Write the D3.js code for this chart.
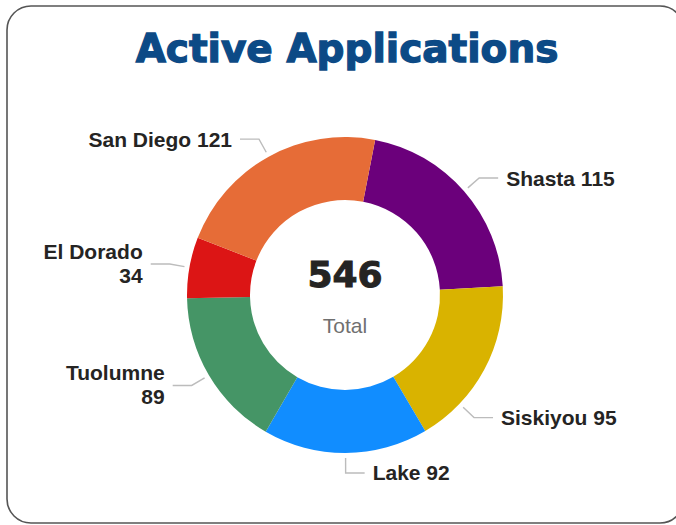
<!DOCTYPE html>
<html>
<head>
<meta charset="utf-8">
<script src="https://cdn.jsdelivr.net/npm/d3@7"></script>
<style>
  html, body { margin: 0; padding: 0; background: #fff; overflow: hidden; }
</style>
</head>
<body>
<div id="root"></div>
<script>
// Data.
const regions = ['Shasta', 'Siskiyou', 'Lake', 'Tuolumne', 'El Dorado', 'San Diego'];
const counts = [115, 95, 92, 89, 34, 121];
const colors = ['#6b007b', '#d9b300', '#118dff', '#459566', '#dc1515', '#e66c37'];
const title = 'Active Applications';
const totalLabel = 'Total';

let width = 676;
let height = 525;

let cx = 345;
let cy = 295;
let outerR = 158;
let innerR = 95;

let svg = d3.select('#root')
  .append('svg')
  .attr('width', width)
  .attr('height', height);

// Card frame.
svg.append('rect')
  .attr('x', 7)
  .attr('y', 6)
  .attr('width', 677)
  .attr('height', 517)
  .attr('rx', 24)
  .attr('fill', '#fff')
  .attr('stroke', '#555')
  .attr('stroke-width', 1.6);

// Title (stroked a little to get the heavy look of the source).
svg.append('text')
  .attr('x', 347)
  .attr('y', 62)
  .attr('text-anchor', 'middle')
  .style('font-family', '"DejaVu Sans", sans-serif')
  .style('font-weight', 'bold')
  .style('font-size', '39px')
  .attr('fill', '#0c4a86')
  .attr('stroke', '#0c4a86')
  .attr('stroke-width', 1.3)
  .text(title);

let values = regions.map((name, i) => ({ name: name, value: counts[i], color: colors[i] }));

let startAngle = 11 * Math.PI / 180; // first slice begins a little right of twelve o'clock

let pie = d3.pie()
  .sort(null)
  .value(d => d.value)
  .startAngle(startAngle)
  .endAngle(startAngle + 2 * Math.PI);

let arc = d3.arc()
  .innerRadius(innerR)
  .outerRadius(outerR);

let arcs = pie(values);

let g = svg.append('g')
  .attr('transform', `translate(${cx}, ${cy})`);

g.selectAll('path.slice')
  .data(arcs)
  .enter()
  .append('path')
  .attr('class', 'slice')
  .attr('d', arc)
  .attr('fill', d => d.data.color);

// Centre total.
let total = d3.sum(counts);

g.append('text')
  .attr('x', 0)
  .attr('y', -8)
  .attr('text-anchor', 'middle')
  .style('font-family', '"DejaVu Sans", sans-serif')
  .style('font-weight', 'bold')
  .style('font-size', '36px')
  .attr('fill', '#252423')
  .attr('stroke', '#252423')
  .attr('stroke-width', 1)
  .text(total);

g.append('text')
  .attr('x', 0)
  .attr('y', 38)
  .attr('text-anchor', 'middle')
  .style('font-family', '"Liberation Sans", Arial, sans-serif')
  .style('font-size', '21px')
  .attr('fill', '#707070')
  .text(totalLabel);

// Data labels with leader lines.
let anchorR = 163;
let elbowR = 178;
let tail = 19;
let gap = 8;
let labelNudge = { 'Siskiyou': 15.4 }; // label pushed down along the slice, as in the source
let wrapped = new Set(['El Dorado', 'Tuolumne']);

let polar = (r, a) => [r * Math.sin(a), -r * Math.cos(a)];

arcs.forEach(d => {
  let a = (d.startAngle + d.endAngle) / 2 + (labelNudge[d.data.name] || 0) * Math.PI / 180;
  let p0 = polar(anchorR, a);
  let p1 = polar(elbowR, a);
  let right = Math.sin(a) >= -0.01;
  let p2 = [p1[0] + (right ? tail : -tail), p1[1]];

  g.append('polyline')
    .attr('points', [p0, p1, p2].map(p => p.join(',')).join(' '))
    .attr('fill', 'none')
    .attr('stroke', '#bcbcbc')
    .attr('stroke-width', 1.4);

  let t = g.append('text')
    .attr('text-anchor', right ? 'start' : 'end')
    .style('font-family', '"Liberation Sans", Arial, sans-serif')
    .style('font-weight', 'bold')
    .style('font-size', '21px')
    .attr('fill', '#252423');

  let tx = p2[0] + (right ? gap : -gap);
  if (wrapped.has(d.data.name)) {
    t.append('tspan').attr('x', tx).attr('y', p2[1] - 5.5).text(d.data.name);
    t.append('tspan').attr('x', tx).attr('y', p2[1] + 18.5).text(d.data.value);
  } else {
    t.attr('x', tx)
      .attr('y', p2[1] + 7.5)
      .text(d.data.name + ' ' + d.data.value);
  }
});
</script>
</body>
</html>
